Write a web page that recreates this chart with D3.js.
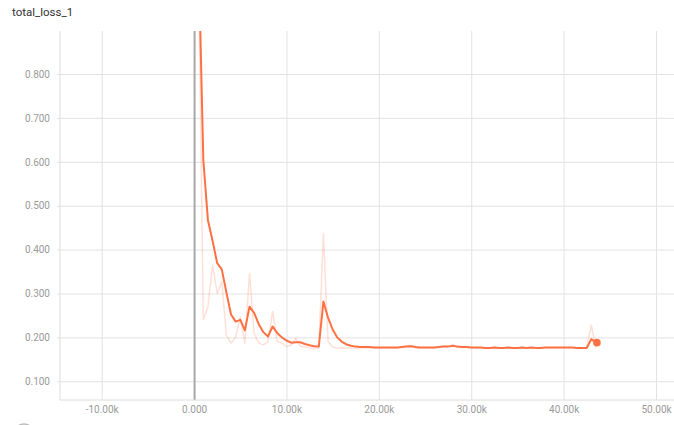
<!DOCTYPE html>
<html>
<head>
<meta charset="utf-8">
<script src="https://cdn.jsdelivr.net/npm/d3@7"></script>
<style>
  html, body { margin: 0; padding: 0; background: #fff; }
  svg { display: block; }
</style>
</head>
<body>
<svg id="chart" width="674" height="425"></svg>
<script>
const title = "total_loss_1";
const xTicks = [-10000, 0, 10000, 20000, 30000, 40000, 50000];
const xTickLabels = ["-10.00k", "0.000", "10.00k", "20.00k", "30.00k", "40.00k", "50.00k"];
const yTicks = [0.1, 0.2, 0.3, 0.4, 0.5, 0.6, 0.7, 0.8];
const yTickLabels = ["0.100", "0.200", "0.300", "0.400", "0.500", "0.600", "0.700", "0.800"];

const steps = [450, 1000, 1500, 2000, 2500, 3000, 3500, 4000, 4500, 5000,
  5500, 6000, 6500, 7000, 7500, 8000, 8500, 9000, 9500, 10000,
  10500, 11000, 11500, 12000, 12500, 13000, 13500, 14000, 14500, 15000,
  15500, 16000, 16500, 17000, 17500, 18000, 18500, 19000, 19500, 20000,
  20500, 21000, 21500, 22000, 22500, 23000, 23500, 24000, 24500, 25000,
  25500, 26000, 26500, 27000, 27500, 28000, 28500, 29000, 29500, 30000,
  30500, 31000, 31500, 32000, 32500, 33000, 33500, 34000, 34500, 35000,
  35500, 36000, 36500, 37000, 37500, 38000, 38500, 39000, 39500, 40000,
  40500, 41000, 41500, 42000, 42500, 43000, 43500];

const rawLoss = [1.10, 0.240, 0.270, 0.365, 0.300, 0.327, 0.205, 0.187, 0.200, 0.247,
  0.187, 0.346, 0.209, 0.187, 0.183, 0.190, 0.259, 0.190, 0.187, 0.179,
  0.182, 0.198, 0.180, 0.178, 0.176, 0.175, 0.176, 0.437, 0.190, 0.178,
  0.176, 0.176, 0.176, 0.176, 0.175, 0.177, 0.176, 0.177, 0.176, 0.176,
  0.177, 0.176, 0.176, 0.176, 0.179, 0.180, 0.181, 0.176, 0.176, 0.177,
  0.176, 0.177, 0.178, 0.180, 0.179, 0.183, 0.177, 0.177, 0.178, 0.176,
  0.177, 0.176, 0.176, 0.176, 0.177, 0.176, 0.176, 0.177, 0.176, 0.176,
  0.177, 0.176, 0.177, 0.176, 0.176, 0.177, 0.176, 0.177, 0.176, 0.177,
  0.177, 0.176, 0.176, 0.175, 0.176, 0.228, 0.175];

const smoothLoss = [1.10, 0.604, 0.467, 0.420, 0.369, 0.355, 0.302, 0.252, 0.236, 0.240,
  0.216, 0.270, 0.256, 0.230, 0.212, 0.202, 0.225, 0.210, 0.200, 0.193,
  0.188, 0.189, 0.189, 0.185, 0.182, 0.180, 0.179, 0.282, 0.245, 0.218,
  0.200, 0.190, 0.184, 0.181, 0.179, 0.178, 0.178, 0.178, 0.177, 0.177,
  0.177, 0.177, 0.177, 0.177, 0.178, 0.179, 0.180, 0.178, 0.177, 0.177,
  0.177, 0.177, 0.178, 0.179, 0.179, 0.181, 0.179, 0.178, 0.178, 0.177,
  0.177, 0.177, 0.176, 0.176, 0.177, 0.176, 0.176, 0.177, 0.176, 0.176,
  0.177, 0.176, 0.177, 0.176, 0.176, 0.177, 0.177, 0.177, 0.177, 0.177,
  0.177, 0.177, 0.176, 0.176, 0.176, 0.196, 0.188];

const data = steps.map((s, i) => ({ step: s, raw: rawLoss[i], smooth: smoothLoss[i] }));

const svg = d3.select("#chart");
const W = 674, H = 425;
const plot = { left: 60, right: 674, top: 31, bottom: 400 };

const x = d3.scaleLinear().domain([-10000, 50000]).range([101.7, 656]);
const y = d3.scaleLinear().domain([0.1, 0.8]).range([381.3, 74]);

const lineColor = "#ff7043";

// Title
svg.append("text")
  .attr("x", 12).attr("y", 16)
  .attr("font-family", "Roboto, 'Noto Sans', sans-serif")
  .attr("font-size", 11.5)
  .attr("fill", "#333")
  .text(title);

// Horizontal grid + y labels
const yAxis = d3.axisLeft(y)
  .tickValues(yTicks)
  .tickFormat((d, i) => yTickLabels[i])
  .tickSize(-(plot.right - plot.left + 3))
  .tickPadding(7);
const gy = svg.append("g")
  .attr("transform", `translate(${plot.left - 3},0)`)
  .call(yAxis);
gy.select(".domain").remove();
gy.selectAll(".tick line")
  .attr("stroke", "#e3e3e3").attr("stroke-width", 1)
  .attr("transform", "translate(0,0)");
gy.selectAll(".tick text")
  .attr("font-family", "Roboto, 'Noto Sans', sans-serif")
  .attr("font-size", 10)
  .attr("fill", "#9a9a9a");

// Vertical grid + x labels
const xAxis = d3.axisBottom(x)
  .tickValues(xTicks)
  .tickFormat((d, i) => xTickLabels[i])
  .tickSize(-(plot.bottom - plot.top))
  .tickPadding(6);
const gx = svg.append("g")
  .attr("transform", `translate(0,${plot.bottom})`)
  .call(xAxis);
gx.select(".domain").remove();
gx.selectAll(".tick line")
  .attr("stroke", d => d === 0 ? "#a8a8a8" : "#e3e3e3")
  .attr("stroke-width", d => d === 0 ? 2 : 1);
gx.selectAll(".tick text")
  .attr("font-family", "Roboto, 'Noto Sans', sans-serif")
  .attr("font-size", 10)
  .attr("fill", "#9a9a9a");

// Plot borders (left and bottom)
svg.append("line")
  .attr("x1", plot.left).attr("x2", plot.left)
  .attr("y1", plot.top).attr("y2", plot.bottom)
  .attr("stroke", "#dcdcdc");
svg.append("line")
  .attr("x1", plot.left).attr("x2", plot.right)
  .attr("y1", plot.bottom).attr("y2", plot.bottom)
  .attr("stroke", "#dcdcdc");

// Clip
svg.append("clipPath").attr("id", "clip")
  .append("rect")
  .attr("x", plot.left).attr("y", plot.top)
  .attr("width", plot.right - plot.left).attr("height", plot.bottom - plot.top);

const g = svg.append("g").attr("clip-path", "url(#clip)");

const rawLine = d3.line().x(d => x(d.step)).y(d => y(d.raw));
const smoothLine = d3.line().x(d => x(d.step)).y(d => y(d.smooth));

g.append("path").datum(data)
  .attr("d", rawLine)
  .attr("fill", "none")
  .attr("stroke", lineColor)
  .attr("stroke-opacity", 0.22)
  .attr("stroke-width", 1.5)
  .attr("stroke-linejoin", "round");

g.append("path").datum(data)
  .attr("d", smoothLine)
  .attr("fill", "none")
  .attr("stroke", lineColor)
  .attr("stroke-width", 2)
  .attr("stroke-linejoin", "round");

const last = data[data.length - 1];
g.append("circle")
  .attr("cx", x(last.step) + 1)
  .attr("cy", y(last.smooth))
  .attr("r", 3.8)
  .attr("fill", lineColor);

// Cut-off control at bottom-left corner
svg.append("circle")
  .attr("cx", 24).attr("cy", 434).attr("r", 10)
  .attr("fill", "none").attr("stroke", "#bbb").attr("stroke-width", 1.5);
</script>
</body>
</html>
